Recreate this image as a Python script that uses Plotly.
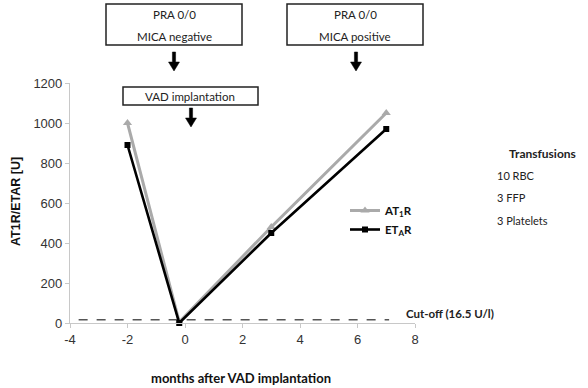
import plotly.graph_objects as go

months_at1r = [-2, -0.2, 3, 7]
at1r = [1000, 5, 480, 1050]
months_etar = [-2, -0.2, 3, 7]
etar = [890, 0, 450, 970]
cutoff_x = [-3.7, 7.1]
cutoff_y = [16.5, 16.5]
x_ticks = [-4, -2, 0, 2, 4, 6, 8]
x_ticklabels = ["-4", "-2", "0", "2", "4", "6", "8"]
y_ticks = [0, 200, 400, 600, 800, 1000, 1200]
transfusions = ["10 RBC", "3 FFP", "3 Platelets"]

W, H = 588, 388
L, R, T, B = 70, 173, 83, 65
PW, PH = W - L - R, H - T - B

def px(x):
    return (x - L) / PW

def py(y):
    return (H - B - y) / PH

FONT = "Lato, Open Sans, sans-serif"

fig = go.Figure()
fig.add_trace(go.Scatter(
    x=cutoff_x, y=cutoff_y, mode="lines", showlegend=False,
    line=dict(color="#555", width=1.6, dash="dash"), hoverinfo="skip"))
fig.add_trace(go.Scatter(
    x=months_at1r, y=at1r, mode="lines+markers", name="<b>AT<sub>1</sub>R</b>",
    line=dict(color="#aaaaaa", width=3),
    marker=dict(symbol="triangle-up", size=8, color="#aaaaaa"),
    cliponaxis=False))
fig.add_trace(go.Scatter(
    x=months_etar, y=etar, mode="lines+markers", name="<b>ET<sub>A</sub>R</b>",
    line=dict(color="#000000", width=2.6),
    marker=dict(symbol="square", size=6, color="#000000"),
    cliponaxis=False))

shapes = []
annotations = []

def box(x0, x1, y0, y1):
    shapes.append(dict(type="rect", xref="paper", yref="paper",
                       x0=px(x0), x1=px(x1), y0=py(y1), y1=py(y0),
                       line=dict(color="#222", width=1.5), fillcolor="white"))

def text(x, y, s, xanchor="center", bold=False, size=11.5, family=FONT, angle=0, color="#222"):
    annotations.append(dict(xref="paper", yref="paper", x=px(x), y=py(y),
                            text=f"<b>{s}</b>" if bold else s, showarrow=False,
                            xanchor=xanchor, yanchor="middle", textangle=angle,
                            font=dict(family=family, size=size, color=color)))

def arrow(x, ytop, ybot):
    # down-pointing block arrow drawn as a filled path (paper coordinates)
    sw, hw, hh = 1.6, 5.5, 9
    pts = [(x - sw, ytop), (x + sw, ytop), (x + sw, ybot - hh), (x + hw, ybot - hh),
           (x, ybot), (x - hw, ybot - hh), (x - sw, ybot - hh)]
    path = "M " + " L ".join(f"{px(a):.5f},{py(b):.5f}" for a, b in pts) + " Z"
    shapes.append(dict(type="path", xref="paper", yref="paper", path=path,
                       fillcolor="#000", line=dict(color="#000", width=0.5)))

box(106, 242, 4, 45)
text(174, 15, "PRA 0/0")
text(174, 36, "MICA negative")
arrow(174, 52, 71)

box(287, 423, 4, 45)
text(355, 15, "PRA 0/0")
text(355, 36, "MICA positive")
arrow(356, 52, 71)

box(123, 258, 87, 105)
text(190, 96, "VAD implantation")
arrow(191, 108, 127)

text(507, 153, "Transfusions", xanchor="left", bold=True, size=12)
for i, t in enumerate(transfusions):
    text(495, 175 + i * 22.5, t, xanchor="left", size=11)

# axis titles
text(241, 378, "months after VAD implantation", bold=True, size=13, color="#111")
text(16, 201, "AT1R/ETAR [U]", bold=True, size=12.5, family="Liberation Sans, Arial",
     angle=-90, color="#111")

annotations.append(dict(xref="x", yref="y", x=7.6, y=cutoff_y[0], text="<b>Cut-off (16.5 U/l)</b>",
                        showarrow=False, xanchor="left", yanchor="bottom", yshift=-2,
                        font=dict(family=FONT, size=11.5, color="#222")))

fig.update_layout(
    width=W, height=H,
    margin=dict(l=L, r=R, t=T, b=B),
    paper_bgcolor="white", plot_bgcolor="white",
    shapes=shapes, annotations=annotations,
    showlegend=True,
    legend=dict(x=px(345), y=py(220), xanchor="left", yanchor="middle",
                font=dict(family=FONT, size=11.5, color="#111"),
                bgcolor="rgba(0,0,0,0)", tracegroupgap=2),
    xaxis=dict(range=[-4, 8], tickvals=x_ticks, ticktext=x_ticklabels, showgrid=False,
               zeroline=False, automargin=False,
               showline=True, linecolor="#c8c8c8", linewidth=1.2,
               ticks="outside", ticklen=4, tickcolor="#c8c8c8",
               tickfont=dict(family="Liberation Sans, Arial", size=13, color="#333")),
    yaxis=dict(range=[0, 1200], tickvals=y_ticks, showgrid=False, zeroline=False,
               automargin=False,
               showline=True, linecolor="#c8c8c8", linewidth=1.2,
               ticks="outside", ticklen=4, tickcolor="#c8c8c8",
               tickfont=dict(family="Liberation Sans, Arial", size=13, color="#333")),
)

fig.write_html("out.html", config={"displayModeBar": False},
               post_script="document.body.style.margin='0';")
